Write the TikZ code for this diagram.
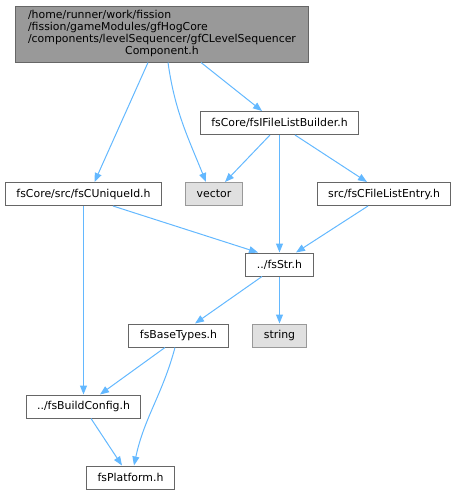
\documentclass[tikz,border=0pt]{standalone}
\usepackage{fontspec}
\setmainfont{DejaVu Sans}
\usetikzlibrary{shapes.geometric, arrows.meta, positioning}
\definecolor{edgeblue}{HTML}{63B8FF}
\definecolor{boxline}{HTML}{666666}
\definecolor{sysline}{HTML}{999999}
\definecolor{sysfill}{HTML}{E0E0E0}
\definecolor{topfill}{HTML}{999999}
\tikzstyle{file} = [rectangle, minimum height=23pt, inner xsep=11pt, inner ysep=2pt, text centered, draw=boxline, fill=white, line width=1pt, font=\fontsize{10.9}{12}\selectfont]
\tikzstyle{sysfile} = [file, draw=sysline, fill=sysfill]
\tikzstyle{topfile} = [file, fill=topfill, inner xsep=12.5pt, inner ysep=4pt]
\tikzstyle{arrow} = [draw=edgeblue, line width=1pt, -{Triangle[length=9pt, width=7pt]}, edgeblue]

\begin{document}
\begin{tikzpicture}[x=1pt, y=1pt, node distance=71pt]
\useasboundingbox (0,0) rectangle (456,-493);
\node (top) [topfile] at (162,-34) {\begin{tabular}{@{}l@{}}/home/runner/work/fission\\/fission/gameModules/gfHogCore\\/components/levelSequencer/gfCLevelSequencer\\\multicolumn{1}{@{}c@{}}{Component.h}\end{tabular}};
\node (build) [file, below of = top, xshift = 117.5pt, yshift = -18pt]{fsCore/fsIFileListBuilder.h};
\node (uid) [file, below of = build, xshift = -196pt]{fsCore/src/fsCUniqueId.h};
\node (vector) [sysfile, below of = build, xshift = -65.5pt]{vector};
\node (entry) [file, below of = build, xshift = 104.5pt]{src/fsCFileListEntry.h};
\node (str) [file, below of = build, yshift = -70.5pt]{../fsStr.h};
\node (base) [file, below of = str, xshift = -101pt]{fsBaseTypes.h};
\node (string) [sysfile, below of = str]{string};
\node (bconf) [file, below of = base, xshift = -95pt]{../fsBuildConfig.h};
\node (plat) [file, below of = bconf, xshift = 47pt]{fsPlatform.h};
\draw [arrow] ([xshift=-14pt]top.south) -- ([xshift=11pt]uid.north);
\draw [arrow] ([xshift=6pt]top.south) to[out=-82, in=112] ([xshift=-8pt]vector.north);
\draw [arrow] ([xshift=39pt]top.south) -- ([xshift=-17.5pt]build.north);
\draw [arrow] ([xshift=-9.5pt]build.south) -- ([xshift=11pt]vector.north);
\draw [arrow] (build) -- (str);
\draw [arrow] ([xshift=15.5pt]build.south) -- ([xshift=-17pt]entry.north);
\draw [arrow] ([xshift=29.5pt]uid.south) -- ([xshift=-21.5pt]str.north);
\draw [arrow] (uid) -- (bconf);
\draw [arrow] ([xshift=-16pt]entry.south) -- ([xshift=16.5pt]str.north);
\draw [arrow] ([xshift=-17.5pt]str.south) -- ([xshift=16.5pt]base.north);
\draw [arrow] (str) -- (string);
\draw [arrow] ([xshift=-13.5pt]base.south) -- ([xshift=16.5pt]bconf.north);
\draw [arrow] ([xshift=-3.5pt]base.south) to[out=-105, in=78] ([xshift=3.5pt]plat.north);
\draw [arrow] ([xshift=7.5pt]bconf.south) -- ([xshift=-8.5pt]plat.north);
\end{tikzpicture}
\end{document}
